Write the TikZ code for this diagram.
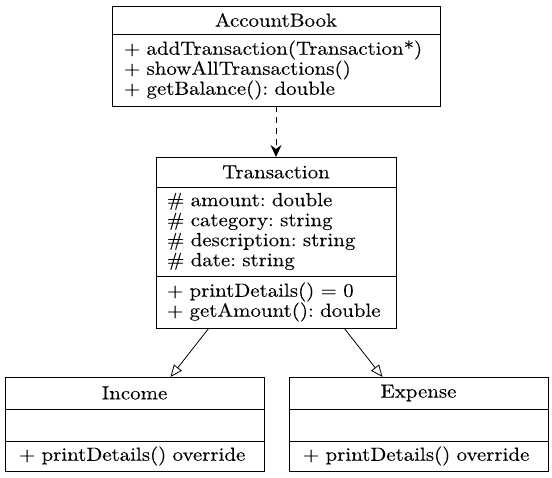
\documentclass[tikz,border=0pt]{standalone}
\usepackage{fontspec}
\setmainfont{lmroman10-regular.otf}[FakeStretch=1.1,FakeBold=0.12]
\usepackage{tikz}
\usetikzlibrary{arrows.meta,positioning}
\tikzset{>={Latex[width=3pt,length=5pt]}}
\frenchspacing
\tikzset{
  part/.style={draw, line width=1pt, outer sep=0pt, inner ysep=0pt,
    font=\fontsize{19}{20}\selectfont},
  namepart/.style={part, align=center, anchor=north},
  bodypart/.style={part, align=left, below=0pt of #1},
  bookpart/.style={inner xsep=12pt, text width=304pt},
  transpart/.style={inner xsep=11pt, text width=218pt},
  subpart/.style={inner xsep=14pt, text width=231pt},
  uses/.style={dashed, dash pattern=on 6pt off 5pt, line width=1pt,
    -{Stealth[length=12pt,width=11pt,inset=4pt]}},
  inherits/.style={line width=0.8pt, -{Triangle[open,length=12pt,width=10pt,fill=white]}}
}

\begin{document}
\begin{tikzpicture}[x=1pt,y=1pt]
  \useasboundingbox (0,0) rectangle (552,-477);

  % AccountBook
  \node[namepart, bookpart, minimum height=28pt] (bookname) at (276,-6) {AccountBook};
  \node[bodypart=bookname, bookpart, minimum height=72pt] (bookops)
    {+ addTransaction(Transaction*)\\+ showAllTransactions()\\+ getBalance(): double};

  % Transaction
  \node[namepart, transpart, minimum height=30pt] (transname) at (276,-157) {Transaction};
  \node[bodypart=transname, transpart, minimum height=89pt] (transattr)
    {\# amount: double\\\# category: string\\\# description: string\\\# date: string};
  \node[bodypart=transattr, transpart, minimum height=52pt] (transops)
    {+ printDetails() = 0\\+ getAmount(): double};

  % Income
  \node[namepart, subpart, minimum height=32pt] (incname) at (134.5,-377) {Income};
  \node[bodypart=incname, subpart, minimum height=32pt] (incattr) {};
  \node[bodypart=incattr, subpart, minimum height=30pt] (incops)
    {+ printDetails() override};

  % Expense
  \node[namepart, subpart, minimum height=32pt] (expname) at (418.5,-377) {Expense};
  \node[bodypart=expname, subpart, minimum height=32pt] (expattr) {};
  \node[bodypart=expattr, subpart, minimum height=30pt] (expops)
    {+ printDetails() override};

  \draw[uses] (bookops.south) -- (transname.north);
  \draw[inherits] ([xshift=-67pt]transops.south) -- ([xshift=36pt]incname.north);
  \draw[inherits] ([xshift=68pt]transops.south) -- ([xshift=-36pt]expname.north);
\end{tikzpicture}
\end{document}
